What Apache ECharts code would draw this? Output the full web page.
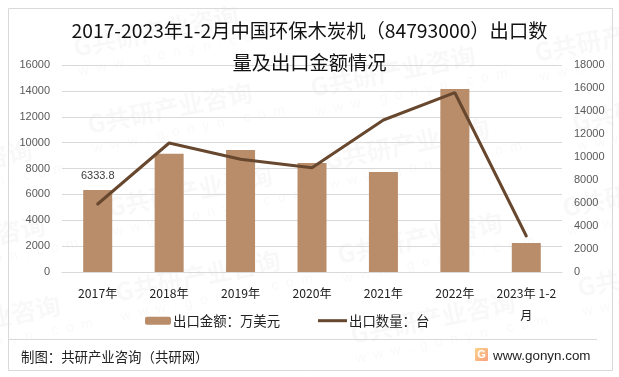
<!DOCTYPE html>
<html><head><meta charset="utf-8">
<style>html,body{margin:0;padding:0;background:#fff}#c{width:619px;height:377px}</style>
<script src="https://cdn.jsdelivr.net/npm/echarts@6/dist/echarts.min.js"></script>
</head><body><div id="c"></div>
<script>
const categories = ['2017年','2018年','2019年','2020年','2021年','2022年','2023年 1-2\n月'];
const exportValue = [6333.8,9144,9430,8425,7730,14145,2240];
const exportQty = [5913,11217,9800,9070,13217,15590,3130];
const leftTicks = {min:0,max:16000,interval:2000};
const rightTicks = {min:0,max:18000,interval:2000};
const FONT = '"Noto Sans CJK SC","Noto Sans",sans-serif';
const LATIN = '"Liberation Sans",sans-serif';
const wmSpots = [[76,60],[313,100],[537,65],[90,137],[327,173],[575,135],[110,220],[340,267],[565,220],[118,305],[353,347],[580,300],[-130,195],[-117,270],[-102,350]];
const wm = [];
wmSpots.forEach(([x,y])=>{
  wm.push({type:'text',x,y,rotation:0.2,z:-1,silent:true,style:{text:'G共研产业咨询',fill:'rgba(0,0,0,0.028)',font:'bold 25px '+FONT,textAlign:'left',textVerticalAlign:'bottom'}});
  wm.push({type:'text',x:x+4,y:y+19,rotation:0.2,z:-1,silent:true,style:{text:'w  w  w  .  g  o  n  y  n  .  c  o  m',fill:'rgba(0,0,0,0.028)',font:'14px "Liberation Sans"',textAlign:'left',textVerticalAlign:'bottom'}});
});
const chart = echarts.init(document.getElementById('c'),null,{renderer:'canvas'});
const axisLabel = {fontSize:11,color:'#595959',margin:12,fontFamily:LATIN,formatter:v=>String(v)};
chart.setOption({
  animation:false,
  backgroundColor:'#fff',
  textStyle:{fontFamily:FONT},
  title:{text:'2017-2023年1-2月中国环保木炭机（84793000）出口数\n量及出口金额情况',left:'center',top:9,itemGap:0,
    textStyle:{fontSize:19.3,fontWeight:'normal',color:'#111',lineHeight:32.5,fontFamily:FONT}},
  grid:{left:62,right:57,top:65,bottom:105,containLabel:false},
  legend:[
    {data:['出口金额：万美元'],left:140,top:309,itemWidth:26,itemHeight:8,textStyle:{fontSize:13.4,color:'#222',fontFamily:FONT,padding:[0,0,0,-3]}},
    {data:[{name:'出口数量：台',icon:'rect'}],left:313,top:309,itemWidth:29,itemHeight:3,textStyle:{fontSize:13.4,color:'#222',fontFamily:FONT,padding:[0,0,0,-3]}}
  ],
  xAxis:{type:'category',data:categories,axisTick:{show:false},axisLine:{lineStyle:{color:'#d9d9d9',width:1}},
    axisLabel:{fontSize:12.2,color:'#222',margin:10,lineHeight:22,interval:0,fontFamily:FONT}},
  yAxis:[
    {type:'value',...leftTicks,axisLine:{show:false},axisTick:{show:false},splitLine:{lineStyle:{color:'#d9d9d9',width:1}},axisLabel},
    {type:'value',...rightTicks,axisLine:{show:false},axisTick:{show:false},splitLine:{show:false},axisLabel}
  ],
  series:[
    {name:'出口金额：万美元',type:'bar',data:exportValue.map((v,i)=>i===0?{value:v,label:{show:true}}:v),barWidth:29,itemStyle:{color:'#b98c6a'},
     label:{show:false,position:'top',distance:9,fontSize:11,color:'#404040',fontFamily:LATIN}},
    {name:'出口数量：台',type:'line',yAxisIndex:1,data:exportQty,symbol:'none',lineStyle:{color:'#67482f',width:3,cap:'round'},itemStyle:{color:'#67482f'},z:5}
  ],
  graphic:[...wm,
    {type:'rect',shape:{x:8.5,y:8.5,width:604,height:362},style:{fill:'none',stroke:'#d9d9d9',lineWidth:1},silent:true},
    {type:'line',shape:{x1:9,y1:339.5,x2:597,y2:339.5},style:{stroke:'#d9d9d9',lineWidth:1},silent:true},
    {type:'text',x:21,y:357,style:{text:'制图：共研产业咨询（共研网）',fill:'#222',font:'13.4px '+FONT,textAlign:'left',textVerticalAlign:'middle'}},
    {type:'text',x:493,y:356,style:{text:'www.gonyn.com',fill:'#222',font:'13.4px "Liberation Sans"',textAlign:'left',textVerticalAlign:'middle'}},
    {type:'rect',shape:{x:475,y:348,width:13,height:13,r:1},style:{fill:new echarts.graphic.LinearGradient(0,0,1,1,[{offset:0,color:'#fbd38a'},{offset:1,color:'#f7a07e'}])}},
    {type:'text',x:481.5,y:354.5,style:{text:'G',fill:'#fff',font:'bold 11px "Liberation Sans"',textAlign:'center',textVerticalAlign:'middle'}}
  ]
});
</script></body></html>
